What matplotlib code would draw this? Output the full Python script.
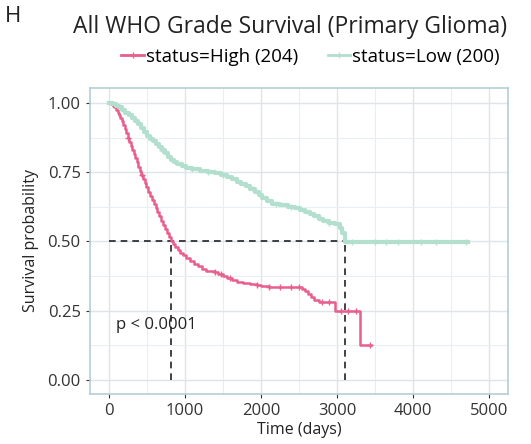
import numpy as np
import matplotlib.pyplot as plt
from matplotlib.lines import Line2D

plt.rcParams['font.family'] = ['Open Sans', 'DejaVu Sans']

# Kaplan-Meier steps
high_time = [0, 30, 55, 75, 95, 115, 135, 150, 170, 190, 210, 230, 250, 270, 290, 310,
             330, 350, 370, 390, 410, 430, 450, 470, 490, 515, 540, 565, 590, 615, 640,
             665, 690, 715, 740, 765, 790, 820, 845, 875, 905, 940, 980, 1020, 1070, 1120,
             1170, 1220, 1280, 1380, 1440, 1500, 1560, 1620, 1680, 1760, 1850, 1950, 2000,
             2100, 2540, 2580, 2620, 2660, 2700, 2760, 2970, 3300, 3450]
high_surv = [1.000, 0.995, 0.990, 0.985, 0.975, 0.965, 0.955, 0.945, 0.935, 0.920, 0.905,
             0.890, 0.875, 0.860, 0.845, 0.830, 0.815, 0.800, 0.785, 0.770, 0.755, 0.740,
             0.725, 0.710, 0.695, 0.680, 0.665, 0.650, 0.635, 0.620, 0.605, 0.590, 0.575,
             0.560, 0.545, 0.530, 0.515, 0.500, 0.490, 0.480, 0.470, 0.460, 0.450, 0.440,
             0.430, 0.420, 0.410, 0.400, 0.392, 0.388, 0.382, 0.375, 0.368, 0.360, 0.354,
             0.350, 0.346, 0.342, 0.338, 0.336, 0.330, 0.320, 0.310, 0.300, 0.290, 0.282,
             0.250, 0.125, 0.125]
high_cens_t = [255, 440, 1400, 1480, 1600, 1950, 2100, 2250, 2400, 2500, 2800, 2900,
               3050, 3150, 3250, 3430]

low_time = [0, 50, 100, 140, 180, 220, 260, 300, 340, 380, 420, 460, 500, 540, 580, 620,
            660, 700, 740, 780, 820, 860, 900, 960, 1020, 1100, 1200, 1300, 1400, 1480,
            1560, 1620, 1680, 1740, 1800, 1860, 1920, 1970, 2020, 2080, 2150, 2250, 2350,
            2450, 2520, 2580, 2640, 2700, 2760, 2820, 2900, 2980, 3040, 3070, 3100, 4720]
low_surv = [1.000, 0.995, 0.990, 0.985, 0.975, 0.965, 0.955, 0.945, 0.935, 0.925, 0.910,
            0.895, 0.880, 0.870, 0.862, 0.852, 0.842, 0.830, 0.818, 0.806, 0.795, 0.786,
            0.778, 0.772, 0.766, 0.760, 0.755, 0.750, 0.746, 0.740, 0.732, 0.724, 0.716,
            0.708, 0.700, 0.690, 0.678, 0.666, 0.655, 0.645, 0.636, 0.630, 0.626, 0.622,
            0.615, 0.606, 0.598, 0.590, 0.582, 0.574, 0.568, 0.562, 0.550, 0.530, 0.497,
            0.497]
low_cens_t = [700, 1100, 1300, 1500, 1900, 2200, 2400, 2900, 3200, 3500, 3650, 3800,
              4100, 4300, 4700]

labels = ['status=High (204)', 'status=Low (200)']
colors = ['#E85E8C', '#B2DFCE']


def surv_at(times, surv, t):
    idx = np.searchsorted(times, t, side='right') - 1
    return np.array(surv)[idx]


def median_time(times, surv):
    for t, s in zip(times, surv):
        if s <= 0.5:
            return t


fig = plt.figure(figsize=(5.31, 4.44), dpi=100)
ax = fig.add_axes([0.169, 0.113, 0.788, 0.689])

groups = [(high_time, high_surv, high_cens_t), (low_time, low_surv, low_cens_t)]
widths = [1.8, 3.0]
for (t, s, ct), c, lw in zip(groups, colors, widths):
    ax.step(t, s, where='post', color=c, lw=lw, zorder=3)
    ax.plot(ct, surv_at(t, s, ct), '+', color=c, ms=5, mew=1.0, zorder=4)

# median lines
m_high = median_time(high_time, high_surv)
m_low = median_time(low_time, low_surv)
ax.plot([0, m_low], [0.5, 0.5], ls=(0, (4, 3)), color='#222222', lw=1.2, zorder=2)
for m in [m_high, m_low]:
    ax.plot([m, m], [0, 0.5], ls=(0, (4, 3)), color='#222222', lw=1.2, zorder=2)

ax.text(100, 0.20, 'p < 0.0001', fontsize=12, color='#222222', va='center', ha='left')

ax.set_xlim(-250, 5250)
ax.set_ylim(-0.05, 1.054)
ax.set_xticks(range(0, 5001, 1000))
ax.set_xticks(range(500, 5000, 1000), minor=True)
ax.set_yticks([0, 0.25, 0.5, 0.75, 1.0])
ax.set_yticklabels(['0.00', '0.25', '0.50', '0.75', '1.00'])
ax.set_yticks([0.125, 0.375, 0.625, 0.875], minor=True)
ax.grid(True, which='major', color='#DDE5EC', lw=1.0)
ax.grid(True, which='minor', color='#E9EEF2', lw=0.8)
ax.set_axisbelow(True)
for sp in ax.spines.values():
    sp.set_color('#B5CDD6')
    sp.set_linewidth(1.2)
ax.tick_params(which='major', labelsize=12, colors='#333333', length=3, width=0.8)
ax.tick_params(which='minor', length=0)
ax.set_xlabel('Time (days)', fontsize=11.5, labelpad=2, color='#222222')
ax.set_ylabel('Survival probability', fontsize=11.5, labelpad=6, color='#222222')

fig.text(0.546, 0.94, 'All WHO Grade Survival (Primary Glioma)', fontsize=16.5,
         ha='center', va='center', color='#222222')
fig.text(0.01, 0.962, 'H', fontsize=16, ha='left', va='center', color='#222222')

handles = [Line2D([], [], color=c, lw=2, marker='+', ms=5) for c in colors]
fig.legend(handles, labels, loc='center', bbox_to_anchor=(0.585, 0.872), ncol=2,
           frameon=False, fontsize=13.5, handlelength=1.2, handletextpad=0.1,
           columnspacing=1.6)

fig.savefig('out.png', dpi=100)
